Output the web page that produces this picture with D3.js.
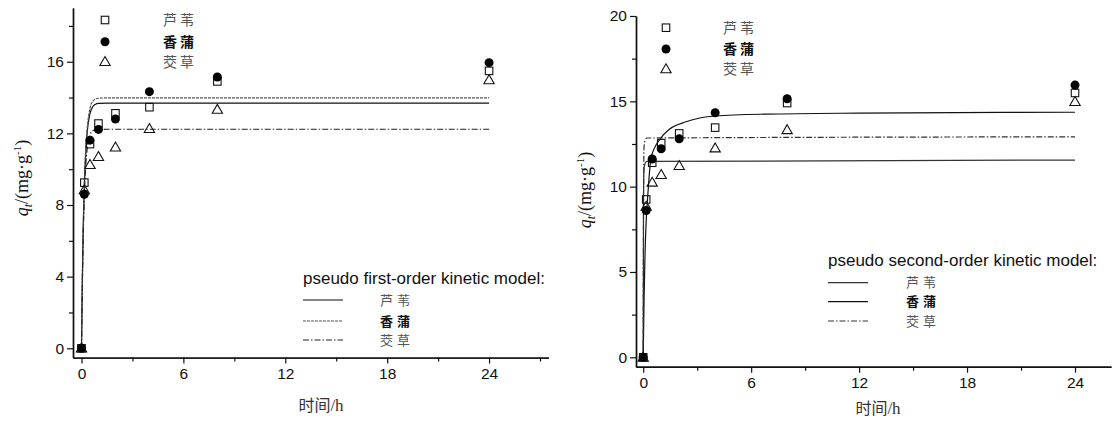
<!DOCTYPE html>
<html><head><meta charset="utf-8">
<script src="https://cdn.jsdelivr.net/npm/d3@7"></script>
<style>body{margin:0;background:#fff}svg{display:block}</style>
</head><body>
<svg id="c" width="1112" height="421"></svg>
<script>
// ---- data ----
const times = [0, 0.167, 0.5, 1, 2, 4, 8, 24];
const reed = [0, 9.25, 11.4, 12.55, 13.12, 13.46, 14.9, 15.49];      // 芦苇
const cattail = [0, 8.6, 11.62, 12.22, 12.8, 14.33, 15.15, 15.95];   // 香蒲
const zizania = [0, 8.84, 10.25, 10.7, 11.23, 12.26, 13.33, 14.98];  // 茭草
const seriesNames = ["芦苇", "香蒲", "茭草"];

// pseudo first-order fitted curves
const fitT1 = [0, 0.05, 0.1, 0.167, 0.25, 0.33, 0.5, 0.67, 0.83, 1, 1.5, 2, 24];
const fit1Reed = [0, 3.7, 6.6, 9.1, 10.9, 12.0, 13.1, 13.5, 13.63, 13.67, 13.69, 13.69, 13.69];
const fit1Cattail = [0, 3.8, 6.7, 9.2, 11.1, 12.2, 13.4, 13.8, 13.92, 13.96, 13.98, 13.98, 13.98];
const fit1Zizania = [0, 3.5, 6.2, 8.5, 10.2, 11.1, 11.9, 12.15, 12.2, 12.22, 12.23, 12.23, 12.23];

// pseudo second-order fitted curves
const fitT2a = [0, 0.02, 0.05, 0.1, 0.2, 24];
const fit2Reed = [0, 9.5, 11.1, 11.35, 11.48, 11.56];
const fit2Zizania = [0, 10, 12.4, 12.7, 12.85, 12.92];
const fitT2b = [0, 0.05, 0.1, 0.167, 0.25, 0.43, 0.6, 0.89, 1.45, 2.38, 4, 6.84, 12, 24];
const fit2Cattail = [0, 3.5, 6.0, 8.0, 9.4, 11.66, 12.2, 12.73, 13.36, 13.8, 14.14, 14.25, 14.31, 14.36];

const xTicks = [0, 6, 12, 18, 24];
const yTicks1 = [0, 4, 8, 12, 16];
const yTicks2 = [0, 5, 10, 15, 20];
const legendTitle1 = "pseudo first-order kinetic model:";
const legendTitle2 = "pseudo second-order kinetic model:";

// ---- drawing ----
const svg = d3.select("#c");
const SANS = "'Liberation Sans', Arial, sans-serif";
const CJK = "'Noto Sans CJK SC', sans-serif";
const SERIF = "'Liberation Serif', 'Times New Roman', serif";

function zip(a, b) { return a.map((v, i) => [v, b[i]]); }

function drawPanel(cfg) {
  const g = svg.append("g");
  const x = d3.scaleLinear().domain(cfg.xDom).range(cfg.xRange);
  const y = d3.scaleLinear().domain(cfg.yDom).range(cfg.yRange);

  // axes
  const xa = g.append("g").attr("transform", `translate(0,${cfg.yRange[0]})`)
    .call(d3.axisBottom(x).tickValues(xTicks).tickSize(6).tickPadding(4).tickSizeOuter(0));
  const xm = g.append("g").attr("transform", `translate(0,${cfg.yRange[0]})`)
    .call(d3.axisBottom(x).tickValues(cfg.xMinor).tickSize(4).tickFormat("").tickSizeOuter(0));
  const ya = g.append("g").attr("transform", `translate(${cfg.xRange[0]},0)`)
    .call(d3.axisLeft(y).tickValues(cfg.yTicks).tickSize(6).tickPadding(3).tickSizeOuter(0));
  const ym = g.append("g").attr("transform", `translate(${cfg.xRange[0]},0)`)
    .call(d3.axisLeft(y).tickValues(cfg.yMinor).tickSize(4).tickFormat("").tickSizeOuter(0));
  [xa, xm, ya, ym].forEach(a => {
    a.select(".domain").attr("stroke", "#111").attr("stroke-width", 1.4);
    a.selectAll(".tick line").attr("stroke", "#111").attr("stroke-width", 1.2);
    a.selectAll(".tick text").attr("font-family", SANS).attr("font-size", 15.5).attr("fill", "#111");
  });

  // fitted lines
  const line = d3.line().x(d => x(d[0])).y(d => y(d[1])).curve(d3.curveMonotoneX);
  cfg.fits.forEach(f => {
    g.append("path").attr("d", line(zip(f.t, f.v))).attr("fill", "none")
      .attr("stroke", f.color).attr("stroke-width", 1.2)
      .attr("stroke-dasharray", f.dash);
  });

  // markers
  const sq = 7.5;
  g.selectAll(".sq").data(zip(times, reed)).enter().append("rect")
    .attr("x", d => x(d[0]) - sq / 2).attr("y", d => y(d[1]) - sq / 2)
    .attr("width", sq).attr("height", sq).attr("fill", "none").attr("stroke", "#111").attr("stroke-width", 1.1);
  g.selectAll(".ci").data(zip(times, cattail)).enter().append("circle")
    .attr("cx", d => x(d[0])).attr("cy", d => y(d[1])).attr("r", 4.5).attr("fill", "#000");
  const tri = d3.symbol().type(d3.symbolTriangle).size(46);
  g.selectAll(".tr").data(zip(times, zizania)).enter().append("path")
    .attr("d", tri).attr("transform", d => `translate(${x(d[0])},${y(d[1]) + 0.8})`)
    .attr("fill", "none").attr("stroke", "#111").attr("stroke-width", 1.1);

  // top-left marker legend
  const L = cfg.mLeg;
  g.append("rect").attr("x", L.mx - sq / 2).attr("y", L.ys[0] - sq / 2).attr("width", sq).attr("height", sq)
    .attr("fill", "none").attr("stroke", "#111").attr("stroke-width", 1.1);
  g.append("circle").attr("cx", L.mx).attr("cy", L.ys[1]).attr("r", 4.5).attr("fill", "#000");
  g.append("path").attr("d", tri).attr("transform", `translate(${L.mx},${L.ys[2] + 0.8})`)
    .attr("fill", "none").attr("stroke", "#111").attr("stroke-width", 1.1);
  seriesNames.forEach((s, i) => {
    g.append("text").attr("x", L.tx).attr("y", L.ys[i]).attr("dy", "0.35em")
      .attr("font-family", CJK).attr("font-size", 14).attr("letter-spacing", 3)
      .attr("font-weight", i === 1 ? "bold" : "normal").attr("fill", i === 1 ? "#111" : "#555")
      .text(s);
  });

  // fit legend
  const F = cfg.fLeg;
  g.append("text").attr("x", F.x).attr("y", F.ty).attr("dy", "0.35em")
    .attr("font-family", SANS).attr("font-size", 17).attr("fill", "#111").text(F.title);
  F.styles.forEach((st, i) => {
    g.append("line").attr("x1", F.x).attr("x2", F.x + 40).attr("y1", F.ys[i]).attr("y2", F.ys[i])
      .attr("stroke", st.color).attr("stroke-width", 1.2).attr("stroke-dasharray", st.dash);
    g.append("text").attr("x", F.tx).attr("y", F.ys[i]).attr("dy", "0.35em")
      .attr("font-family", CJK).attr("font-size", 13).attr("letter-spacing", 4)
      .attr("font-weight", i === 1 ? "bold" : "normal").attr("fill", i === 1 ? "#111" : "#555")
      .text(seriesNames[i]);
  });

  // x label
  const xl = g.append("text").attr("x", cfg.xLab[0]).attr("y", cfg.xLab[1]).attr("dy", "0.35em")
    .attr("text-anchor", "middle").attr("font-size", 16).attr("fill", "#333");
  xl.append("tspan").attr("font-family", CJK).text("时间");
  xl.append("tspan").attr("font-family", SERIF).attr("font-size", 17).text("/h");

  // y label
  const yl = g.append("text").attr("transform", `translate(${cfg.yLab[0]},${cfg.yLab[1]}) rotate(-90)`)
    .attr("text-anchor", "middle").attr("dy", "0.35em").attr("font-family", SERIF).attr("font-size", 18).attr("fill", "#111");
  yl.append("tspan").attr("font-style", "italic").text("q");
  yl.append("tspan").attr("font-style", "italic").attr("font-size", 12).attr("dy", 4).text("t");
  yl.append("tspan").attr("dy", -4).text("/(mg·g");
  yl.append("tspan").attr("font-size", 11).attr("dy", -7).text("-1");
  yl.append("tspan").attr("dy", 7).text(")");
}

drawPanel({
  xDom: [-0.5, 27.5], xRange: [73, 548.5],
  yDom: [-0.52, 19.0], yRange: [357.6, 8],
  xMinor: [3, 9, 15, 21, 27], yTicks: yTicks1, yMinor: [2, 6, 10, 14, 18],
  fits: [
    { t: fitT1, v: fit1Reed, color: "#111", dash: null },
    { t: fitT1, v: fit1Cattail, color: "#555", dash: "3,1" },
    { t: fitT1, v: fit1Zizania, color: "#222", dash: "6,2,1.5,2" }
  ],
  mLeg: { mx: 105, tx: 163, ys: [20, 41.7, 61.7] },
  fLeg: { x: 303, tx: 380, ty: 278, ys: [300, 321, 340], title: legendTitle1,
    styles: [{ color: "#111", dash: null }, { color: "#555", dash: "3,1" }, { color: "#222", dash: "6,2,1.5,2" }] },
  xLab: [321, 405], yLab: [22, 178]
});

drawPanel({
  xDom: [-0.4, 26.0], xRange: [636, 1111],
  yDom: [-0.55, 20.0], yRange: [366.7, 16],
  xMinor: [3, 9, 15, 21], yTicks: yTicks2, yMinor: [2.5, 7.5, 12.5, 17.5],
  fits: [
    { t: fitT2a, v: fit2Reed, color: "#333", dash: null },
    { t: fitT2b, v: fit2Cattail, color: "#111", dash: null },
    { t: fitT2a, v: fit2Zizania, color: "#333", dash: "6,2,1.5,2" }
  ],
  mLeg: { mx: 666, tx: 723, ys: [27.7, 49, 69] },
  fLeg: { x: 828, tx: 906, ty: 260, ys: [282.7, 301.7, 321], title: legendTitle2,
    styles: [{ color: "#333", dash: null }, { color: "#111", dash: null }, { color: "#333", dash: "6,2,1.5,2" }] },
  xLab: [878, 408], yLab: [585, 190]
});
</script>
</body></html>
